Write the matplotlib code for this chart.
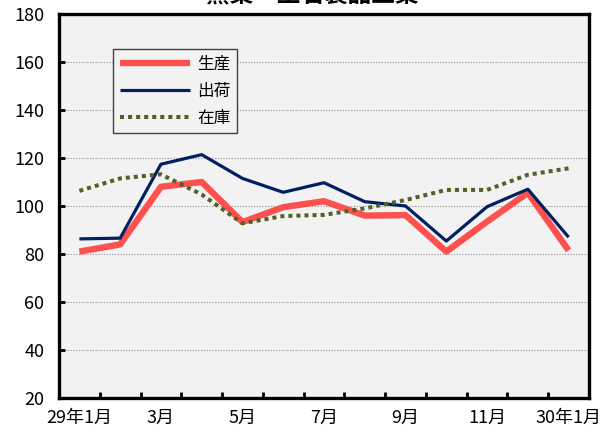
import matplotlib
matplotlib.use("Agg")
import matplotlib.pyplot as plt
from matplotlib.ticker import FixedLocator, NullFormatter

plt.rcParams['font.family'] = ['Noto Sans CJK JP', 'DejaVu Sans']

title = "窯業・土石製品工業"
months = ["29年1月", "2月", "3月", "4月", "5月", "6月", "7月", "8月", "9月",
          "10月", "11月", "12月", "30年1月"]
tick_labels = ["29年1月", "", "3月", "", "5月", "", "7月", "", "9月", "", "11月", "", "30年1月"]
production = [81.0, 84.0, 108.0, 110.0, 93.3, 99.5, 102.0, 96.0, 96.2, 81.0, 93.5, 105.5, 81.5]
shipments = [86.3, 86.6, 117.4, 121.4, 111.5, 105.7, 109.7, 101.8, 100.0, 85.4, 99.7, 107.0, 87.0]
inventory = [106.3, 111.5, 113.2, 104.8, 92.8, 95.8, 96.3, 99.0, 102.5, 106.7, 106.7, 113.0, 115.7]
series_names = ["生産", "出荷", "在庫"]

W, H = 612, 436
fig = plt.figure(figsize=(W / 100, H / 100), dpi=100)
left, right, top, bottom = 59, 589, 14, 398
ax = fig.add_axes([left / W, 1 - bottom / H, (right - left) / W, (bottom - top) / H])
ax.set_facecolor('#F2F2F2')

x = list(range(len(months)))
ax.plot(x, production, color='#FF5050', lw=4.6, solid_capstyle='butt', label=series_names[0], zorder=3)
ax.plot(x, shipments, color='#002060', lw=2.3, solid_capstyle='butt', label=series_names[1], zorder=4)
ax.plot(x, inventory, color='#4F6228', lw=2.9, linestyle=(0, (1, 1)), dash_capstyle='butt',
        label=series_names[2], zorder=5)

ax.set_xlim(-0.5, len(months) - 0.5)
ax.set_ylim(20, 180)
ax.set_yticks(range(20, 181, 20))
ax.yaxis.grid(True, color='#909090', linestyle=(0, (1, 1.5)), linewidth=0.8)
ax.set_axisbelow(True)

ax.set_xticks(x)
ax.set_xticklabels(tick_labels)
ax.xaxis.set_minor_locator(FixedLocator([i + 0.5 for i in range(len(months) - 1)]))
ax.xaxis.set_minor_formatter(NullFormatter())
ax.tick_params(axis='x', which='major', length=0, pad=8, labelsize=13)
ax.tick_params(axis='x', which='minor', direction='in', length=4, width=2)
ax.tick_params(axis='y', direction='in', length=4, width=2, pad=10.5, labelsize=13)

for s in ax.spines.values():
    s.set_linewidth(2.4)
    s.set_color('black')

leg = ax.legend(loc='upper left', bbox_to_anchor=(113 / W, 1 - 49 / H),
                bbox_transform=fig.transFigure, handlelength=4.2, handletextpad=0.45,
                labelspacing=0.6, fontsize=12, fancybox=False, framealpha=1,
                borderpad=0.4, borderaxespad=0)
leg.get_frame().set_edgecolor('#404040')
leg.get_frame().set_linewidth(1.0)
leg.get_frame().set_facecolor('#F2F2F2')

fig.text(312 / W, 1 - 6 / H, title, ha='center', va='bottom', fontsize=17, fontweight='bold')

fig.savefig('out.png', dpi=100)
